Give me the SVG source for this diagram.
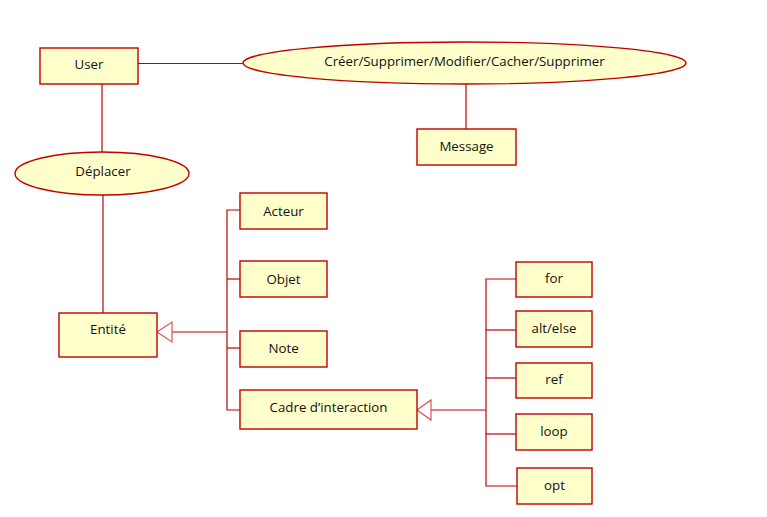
<svg xmlns="http://www.w3.org/2000/svg" width="767" height="517" viewBox="0 0 767 517">
<style>
.n{fill:#FFFFCC;stroke:#C00000;stroke-width:1.4}
.t{font-family:"Open Sans","Liberation Sans",Arial,sans-serif;font-size:13.3px;fill:#111;text-anchor:middle}
.c{fill:none;stroke:#C00000;stroke-width:1.2}
.a{fill:#fff;stroke:#D9534F;stroke-width:1.2}
</style>
<rect width="767" height="517" fill="#fff"/>
<g id="connectors">
<line class="c" x1="138" y1="63.5" x2="243" y2="63.5"/>
<line class="c" x1="466" y1="84" x2="466" y2="129"/>
<line class="c" x1="102" y1="84" x2="102" y2="152"/>
<line class="c" x1="103" y1="195" x2="103" y2="318"/>
<line class="c" x1="172" y1="332" x2="227" y2="332"/>
<polyline class="c" points="240,210 227,210 227,410 240,410"/>
<line class="c" x1="227" y1="279" x2="240" y2="279"/>
<line class="c" x1="227" y1="348" x2="240" y2="348"/>
<polygon class="a" points="157,332 172,322 172,342"/>
<line class="c" x1="431" y1="410" x2="486" y2="410"/>
<polyline class="c" points="516,279 486,279 486,486 517,486"/>
<line class="c" x1="486" y1="330" x2="516" y2="330"/>
<line class="c" x1="486" y1="378" x2="516" y2="378"/>
<line class="c" x1="486" y1="434" x2="516" y2="434"/>
<polygon class="a" points="417,410 431,400 431,420"/>
</g>
<g id="user"><rect class="n" x="40" y="48" width="98" height="36"/><text class="t" x="89" y="69">User</text></g>
<g id="creer"><ellipse class="n" cx="464.5" cy="63" rx="221.5" ry="21"/><text class="t" x="464.5" y="66">Créer/Supprimer/Modifier/Cacher/Supprimer</text></g>
<g id="message"><rect class="n" x="417" y="129" width="99" height="36"/><text class="t" x="466.5" y="151">Message</text></g>
<g id="deplacer"><ellipse class="n" cx="102" cy="173.5" rx="87" ry="21.5"/><text class="t" x="103" y="176">Déplacer</text></g>
<g id="entite"><rect class="n" x="59" y="313" width="98" height="44"/><text class="t" x="108" y="334">Entité</text></g>
<g id="acteur"><rect class="n" x="240" y="193" width="87" height="36"/><text class="t" x="283.5" y="216">Acteur</text></g>
<g id="objet"><rect class="n" x="240" y="261" width="87" height="36"/><text class="t" x="283.5" y="284">Objet</text></g>
<g id="note"><rect class="n" x="240" y="331" width="87" height="36"/><text class="t" x="283.5" y="353">Note</text></g>
<g id="cadre"><rect class="n" x="240" y="390" width="177" height="39"/><text class="t" x="328.5" y="412">Cadre d’interaction</text></g>
<g id="for"><rect class="n" x="516" y="262" width="76" height="35"/><text class="t" x="554" y="283">for</text></g>
<g id="altelse"><rect class="n" x="516" y="311" width="76" height="36"/><text class="t" x="554" y="333">alt/else</text></g>
<g id="ref"><rect class="n" x="516" y="363" width="76" height="35"/><text class="t" x="554" y="384">ref</text></g>
<g id="loop"><rect class="n" x="516" y="414" width="76" height="36"/><text class="t" x="554" y="436">loop</text></g>
<g id="opt"><rect class="n" x="517" y="468" width="75" height="36"/><text class="t" x="554.5" y="490">opt</text></g>
</svg>
